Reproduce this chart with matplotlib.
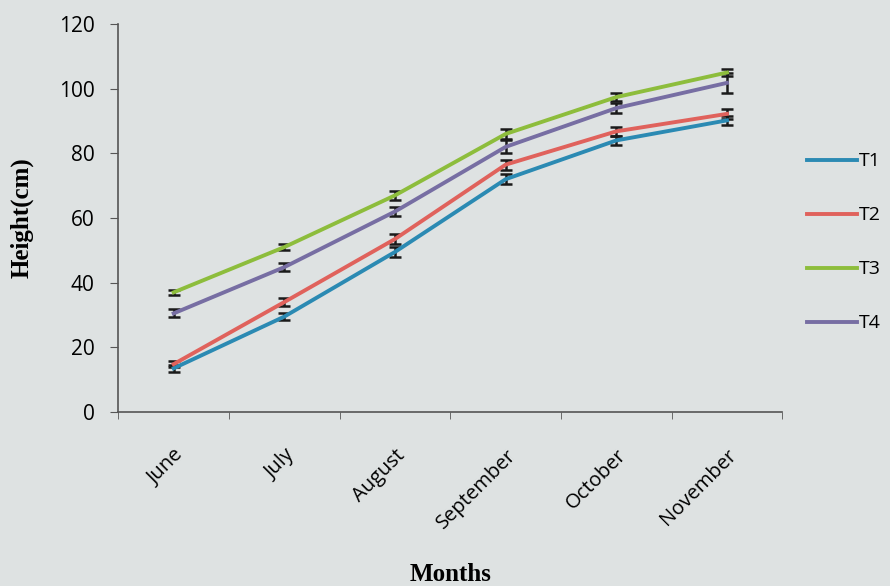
import matplotlib.pyplot as plt
import numpy as np

months = ['June', 'July', 'August', 'September', 'October', 'November']
t1 = [13.5, 29.5, 49.5, 72.0, 84.0, 90.2]
t2 = [14.8, 34.0, 53.5, 76.5, 86.8, 92.2]
t3 = [37.0, 51.0, 67.0, 86.0, 97.4, 105.0]
t4 = [30.5, 44.8, 62.0, 82.0, 94.0, 101.8]
t1_err = [1.0, 1.2, 1.5, 1.5, 1.5, 1.5]
t2_err = [1.0, 1.2, 1.5, 1.5, 1.5, 1.5]
t3_err = [0.8, 1.0, 1.5, 1.5, 1.2, 1.2]
t4_err = [1.2, 1.2, 1.5, 2.0, 1.5, 3.0]
labels = ['T1', 'T2', 'T3', 'T4']
colors = ['#2b8ab3', '#e0625c', '#8dbd3c', '#776ea3']

bg = '#dee2e2'
fig = plt.figure(figsize=(8.9, 5.86), dpi=100, facecolor=bg)
ax = fig.add_axes([0.133, 0.297, 0.746, 0.662], facecolor=bg)

x = np.arange(len(months))
for vals, err, c, lab in zip([t1, t2, t3, t4], [t1_err, t2_err, t3_err, t4_err], colors, labels):
    ax.errorbar(x, vals, yerr=err, color=c, lw=2.8, label=lab,
                ecolor='#1a1a1a', elinewidth=1.8, capsize=4, capthick=1.8)

ax.set_xlim(-0.5, len(months) - 0.5)
ax.set_ylim(0, 120)
ax.set_yticks(range(0, 121, 20))
ax.set_xticks(x)
ax.set_xticklabels(months, rotation=45, ha='right', rotation_mode='anchor',
                   fontsize=14.5, family='Open Sans')
ax.set_xticks(np.arange(-0.5, len(months) + 0.5, 1), minor=True)
ax.tick_params(axis='x', which='major', length=0, pad=24)
ax.tick_params(axis='x', which='minor', length=5, color='#555555')
ax.tick_params(axis='y', length=6, color='#555555', labelsize=15, pad=11)
for t in ax.get_yticklabels():
    t.set_family('Open Sans')

for s in ['top', 'right']:
    ax.spines[s].set_visible(False)
for s in ['left', 'bottom']:
    ax.spines[s].set_color('#555555')
    ax.spines[s].set_linewidth(1.2)

ax.set_ylabel('Height(cm)', family='Liberation Serif', fontweight='bold', fontsize=18)
ax.yaxis.set_label_coords(-0.128, 0.5)
ax.set_xlabel('Months', family='Liberation Serif', fontweight='bold', fontsize=18)
ax.xaxis.set_label_coords(0.50, -0.39)

# legend without the error bar glyphs
handles = [plt.Line2D([], [], color=c, lw=2.8) for c in colors]
leg = ax.legend(handles, labels, loc='center left', bbox_to_anchor=(1.025, 0.437),
                borderaxespad=0, frameon=False, labelspacing=1.85, handlelength=2.6,
                handletextpad=0.1, prop={'family': 'Open Sans', 'size': 14})

fig.savefig('out.png', dpi=100, facecolor=bg)
